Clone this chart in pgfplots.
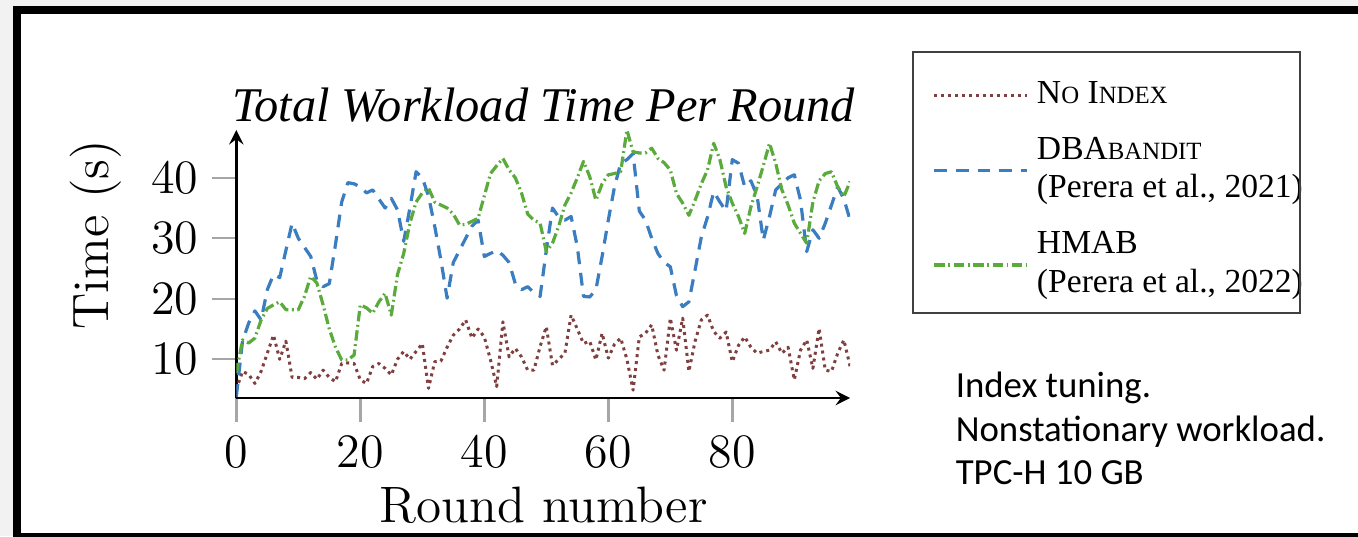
\documentclass[border=0pt]{standalone}
\usepackage{fontspec}
\usepackage{pgfplots}
\usepackage{pgfplotstable}
\pgfplotsset{compat=1.18}
\newfontfamily\timesfont{Liberation Serif}
\newfontfamily\timesit{Liberation Serif Italic}
\newfontfamily\calibri{Carlito}
\definecolor{noidx}{HTML}{804040}
\definecolor{dbab}{HTML}{3B7DC1}
\definecolor{hmab}{HTML}{5AAA3C}
\definecolor{slidegray}{HTML}{F2F2F2}
\newcommand{\fsc}[1]{{\fontsize{6.2pt}{7pt}\selectfont #1}}

% round, no index, DBAbandit, HMAB (seconds)
\pgfplotstableread{
r noidx dba hmab
0 5.0 3.8 7.7
1 8.0 13.0 13.2
2 7.5 16.0 12.7
3 6.0 18.0 13.5
4 8.0 16.5 16.5
5 11.0 21.5 18.4
6 14.0 24.0 19.0
7 10.0 23.5 19.5
8 13.0 28.0 18.2
9 7.0 32.5 18.2
10 7.0 30.0 18.2
11 6.8 28.5 20.4
12 7.8 27.0 23.7
13 6.7 23.0 22.6
14 8.2 22.0 19.0
15 7.0 22.5 15.0
16 6.3 29.0 12.0
17 9.3 36.0 9.9
18 9.4 39.2 9.9
19 9.3 39.0 10.7
20 6.6 38.5 19.0
21 6.0 37.5 18.5
22 8.8 38.0 17.6
23 9.3 36.5 19.5
24 8.5 35.0 20.9
25 7.4 36.6 17.3
26 10.0 34.7 24.0
27 11.3 29.5 27.5
28 10.0 35.0 32.5
29 11.3 41.0 36.0
30 12.6 40.0 37.5
31 5.2 37.0 38.3
32 9.6 32.0 36.0
33 9.7 26.4 35.5
34 12.0 20.1 35.0
35 14.0 26.0 34.0
36 15.0 28.0 32.2
37 16.5 30.0 32.3
38 13.5 32.0 32.8
39 15.0 33.0 33.3
40 13.7 27.0 37.0
41 9.9 27.5 40.7
42 5.5 28.0 42.0
43 16.2 27.2 43.2
44 10.4 26.0 41.3
45 11.8 22.5 40.0
46 10.4 21.5 37.5
47 8.2 22.0 34.0
48 8.2 21.0 33.0
49 12.1 20.4 32.5
50 15.4 28.0 27.8
51 9.0 35.0 29.2
52 10.0 33.5 32.0
53 11.0 33.0 35.5
54 17.3 33.6 37.5
55 15.0 28.6 40.0
56 12.6 20.4 42.7
57 13.0 20.3 40.2
58 9.9 21.5 36.3
59 14.3 27.0 39.0
60 10.2 33.0 40.5
61 12.5 38.5 40.7
62 13.5 42.4 41.0
63 10.0 43.0 47.9
64 4.9 44.0 44.3
65 13.7 34.5 44.1
66 14.3 33.0 44.1
67 15.7 30.0 44.9
68 10.7 27.5 43.2
69 8.2 26.0 42.5
70 16.8 25.3 41.3
71 11.5 20.5 37.4
72 16.8 18.7 35.8
73 8.0 19.5 33.8
74 13.0 24.8 36.3
75 16.5 30.2 39.0
76 17.3 33.5 41.3
77 14.6 37.7 45.7
78 13.5 36.0 43.0
79 14.5 34.5 38.5
80 9.6 43.0 35.8
81 12.3 42.4 33.6
82 13.7 38.5 30.8
83 12.0 39.5 35.2
84 11.0 37.0 38.5
85 11.3 29.7 42.0
86 11.5 33.6 45.7
87 12.9 38.0 42.4
88 11.0 39.0 38.0
89 12.0 40.0 35.5
90 6.6 40.5 32.5
91 11.5 36.3 30.8
92 13.2 27.8 29.2
93 8.5 31.4 36.0
94 15.1 30.0 39.5
95 8.2 32.5 40.7
96 8.0 35.5 41.0
97 11.0 38.5 38.5
98 13.2 36.5 36.9
99 8.8 33.0 39.4
}\rounds

\begin{document}
\begin{tikzpicture}
\path[use as bounding box] (0,0) rectangle (339.5pt,134pt);
% slide frame
\fill[slidegray] (0,0) rectangle (339.5pt,134pt);
\fill[black] (3.25pt,-1pt) rectangle (341pt,132.5pt);
\fill[white] (5.25pt,0.75pt) rectangle (341pt,130.4pt);

\begin{axis}[
    at={(59.075pt,34.5pt)}, anchor=south west,
    scale only axis, width=153.45pt, height=67pt,
    xmin=0, xmax=99, ymin=3.6, ymax=47.9,
    enlargelimits=false,
    axis lines=left,
    axis line style={line width=0.6pt},
    tick align=outside,
    major tick length=6pt,
    tick style={gray!70, line width=0.6pt},
    xtick={0,20,40,60,80}, ytick={10,20,30,40},
    tick label style={font=\fontsize{12.8pt}{14pt}\selectfont},
    label style={font=\fontsize{12.8pt}{14pt}\selectfont},
    title={Total Workload Time Per Round},
    every axis title shift=0pt,
    title style={font=\timesit\fontsize{12.1pt}{14pt}\selectfont,
        at={(rel axis cs:0.5005,1.03)}, anchor=base, inner sep=0pt},
    xlabel={Round number},
    xlabel style={at={(rel axis cs:0.501,-0.4627)}, anchor=base, inner sep=0pt},
    ylabel={Time (s)},
    ylabel style={at={(rel axis cs:-0.2285,0.61)}, anchor=center, inner sep=0pt},
    legend style={at={(rel axis cs:1.1334,1.215)}, anchor=north west,
        draw=none, fill=none, inner sep=0pt, row sep=3pt,
        font=\timesfont\fontsize{8.4pt}{9.6pt}\selectfont,
        cells={align=left}},
    legend cell align=left,
    legend image code/.code={\draw[#1] (0pt,0pt) -- (23.25pt,0pt);},
    every axis plot/.append style={line join=round},
]
\addplot[noidx, line width=0.75pt, dash pattern=on 0.75pt off 1pt] table[x=r, y=noidx] {\rounds};
\addlegendentry{N\fsc{O} I\fsc{NDEX}}
\addplot[dbab, line width=0.8pt, dash pattern=on 3.2pt off 2.2pt] table[x=r, y=dba] {\rounds};
\addlegendentry{DBA\fsc{BANDIT}\\(Perera et al., 2021)}
\addplot[hmab, line width=0.8pt, dash pattern=on 2.6pt off 0.9pt on 0.45pt off 0.9pt] table[x=r, y=hmab] {\rounds};
\addlegendentry{HMAB\\(Perera et al., 2022)}
\end{axis}

% legend frame
\draw[line width=0.55pt, black!75] (228.25pt,121pt) rectangle (325pt,55.75pt);

% side note
\begin{scope}[every node/.style={anchor=base west, inner sep=0pt,
    font=\calibri\fontsize{9.2pt}{11pt}\selectfont}]
\node at (238.75pt,34.75pt) {Index tuning.};
\node at (238.75pt,23.75pt) {Nonstationary workload.};
\node at (238.75pt,13pt) {TPC-H 10 GB};
\end{scope}
\end{tikzpicture}
\end{document}
